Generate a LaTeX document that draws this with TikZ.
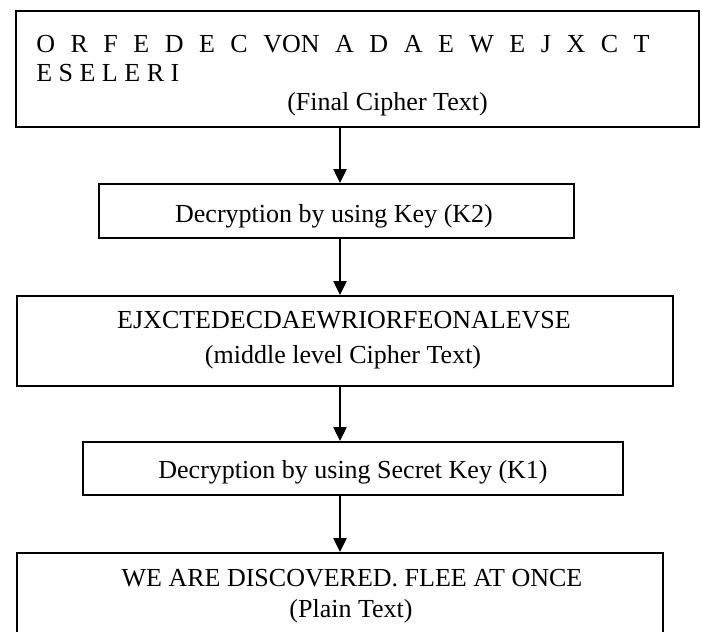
\documentclass[tikz,border=0pt]{standalone}
\usepackage{fontspec}
\setmainfont{Liberation Serif}
\usetikzlibrary{arrows.meta}
\begin{document}
\begin{tikzpicture}[x=0.75pt,y=-0.75pt,
  box/.style={draw, line width=1.2pt, inner sep=0pt, anchor=north west},
  txt/.style={inner sep=0pt, font=\fontsize{19.5}{23}\selectfont, anchor=base},
  arr/.style={line width=1pt, -{Triangle[length=10.5pt,width=10pt]}}]
\clip (0,0) rectangle (702,631);
\fill[white] (0,0) rectangle (702,631);
% boxes
\node[box, minimum width=512.25pt, minimum height=87pt] (b1) at (15,10) {};
\node[box, minimum width=356.25pt, minimum height=40.5pt] (b2) at (98,183) {};
\node[box, minimum width=492pt, minimum height=67.5pt] (b3) at (16,295) {};
\node[box, minimum width=405pt, minimum height=39.75pt] (b4) at (82,441) {};
\node[box, minimum width=484.5pt, minimum height=75pt] (b5) at (16,552) {};
% texts
\node[txt, anchor=base west] (t1a) at (36,53) {\makebox[460pt][s]{O R F E D E C VON A D A E W E J X C T}};
\node[txt, anchor=base west] (t1b) at (36,82) {E S E L E R I};
\node[txt, anchor=base west] (t1c) at (287,111) {(Final Cipher Text)};
\node[txt] (t2) at (334,222) {Decryption by using Key (K2)};
\node[txt] (t3a) at (344,328) {EJXCTEDECDAEWRIORFEONALEVSE};
\node[txt] (t3b) at (343,363) {(middle level Cipher Text)};
\node[txt] (t4) at (353,478) {Decryption by using Secret Key (K1)};
\node[txt] (t5a) at (352,586) {WE ARE DISCOVERED. FLEE AT ONCE};
\node[txt] (t5b) at (351,617) {(Plain Text)};
% arrows
\coordinate (ax) at (340,0);
\draw[arr] (b1.south -| ax) -- (b2.north -| ax);
\draw[arr] (b2.south -| ax) -- (b3.north -| ax);
\draw[arr] (b3.south -| ax) -- (b4.north -| ax);
\draw[arr] (b4.south -| ax) -- (b5.north -| ax);
\end{tikzpicture}
\end{document}
